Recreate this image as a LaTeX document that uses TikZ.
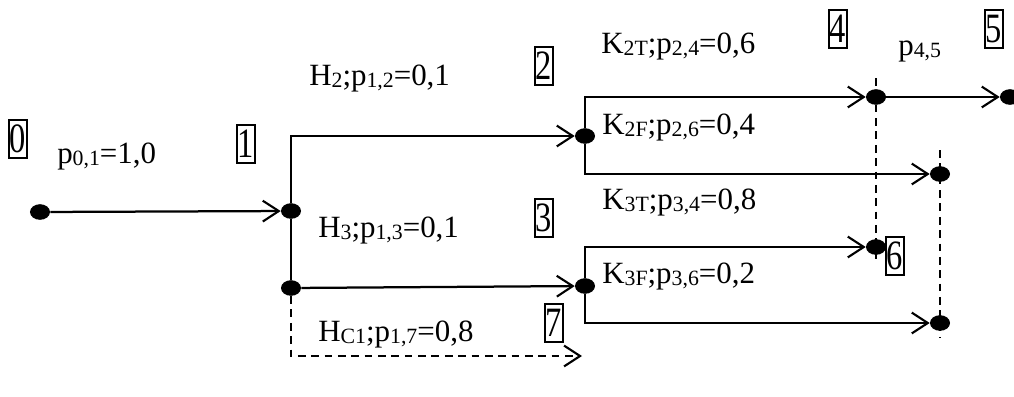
\documentclass[tikz,border=0pt]{standalone}
\usepackage{fontspec}
\setmainfont{Liberation Serif}
\usetikzlibrary{arrows.meta, positioning, shapes.geometric}
\newcommand{\sub}[1]{\raisebox{-1.8pt}{\fontsize{15.5}{16}\selectfont #1}}
\newcommand{\boxdigit}[1]{\scalebox{1.05}[1.35]{#1}}

\begin{document}
\begin{tikzpicture}[x=0.025cm, y=-0.025cm,
  every node/.style={font=\fontsize{22}{26}\selectfont},
  dot/.style={ellipse, fill=black, inner sep=0pt, minimum width=0.5cm, minimum height=0.39cm},
  numbox/.style={draw, line width=1.3pt, inner sep=0pt, minimum width=0.45cm, minimum height=0.97cm},
  lab/.style={anchor=base west, inner sep=0pt},
  arr/.style={line width=1.6pt, -{Straight Barb[length=4mm, width=5.2mm, line width=1.5pt]}},
  dashln/.style={line width=1.1pt, dash pattern=on 5.5pt off 4pt}]
  \useasboundingbox (0,0) rectangle (1014,396);

  % event nodes
  \node[dot] (n0) at (40,212) {};
  \node[dot] (n1) at (291,211) {};
  \node[dot] (n1c) at (291,288) {};
  \node[dot] (n2) at (585,136) {};
  \node[dot] (n3) at (585,286) {};
  \node[dot] (n4) at (876,97) {};
  \node[dot] (n5) at (1010,97) {};
  \node[dot] (n6) at (876,247) {};
  \node[dot] (n2f) at (940,174) {};
  \node[dot] (n3f) at (940,323) {};
  \coordinate (n7) at (582,356);

  % merging lines
  \draw[dashln] (n4.center |- 0,78) -- (n6.center |- 0,265);
  \draw[dashln] (n2f.center |- 0,150) -- (n3f.center |- 0,338);

  % transitions
  \draw[arr] (n0) -- (n1);
  \draw[arr] (n1) |- (n2);
  \draw[line width=1.6pt] (n1) -- (n1c);
  \draw[arr] (n1c) -- (n3);
  \draw[arr, dashln] (n1c) |- (n7);
  \draw[arr] (n2) |- (n4);
  \draw[arr] (n2) |- (n2f);
  \draw[arr] (n4) -- (n5);
  \draw[arr] (n3) |- (n6);
  \draw[arr] (n3) |- (n3f);

  % labels
  \node[lab] (l01) at (57,163) {p\sub{0,1}=1,0};
  \node[lab] (l12) at (309,85) {H\sub{2};p\sub{1,2}=0,1};
  \node[lab] (l13) at (318,237) {H\sub{3};p\sub{1,3}=0,1};
  \node[lab] (l17) at (318,341) {H\sub{C1};p\sub{1,7}=0,8};
  \node[lab] (l24) at (601,53) {K\sub{2T};p\sub{2,4}=0,6};
  \node[lab] (l26) at (602,134) {K\sub{2F};p\sub{2,6}=0,4};
  \node[lab] (l34) at (602,209) {K\sub{3T};p\sub{3,4}=0,8};
  \node[lab] (l36) at (602,283) {K\sub{3F};p\sub{3,6}=0,2};
  \node[lab] (l45) at (898,55) {p\sub{4,5}};

  % state numbers
  \node[numbox] (b0) at (18,139) {\boxdigit{0}};
  \node[numbox] (b1) at (246,144) {\boxdigit{1}};
  \node[numbox] (b2) at (544,66) {\boxdigit{2}};
  \node[numbox] (b3) at (544,218) {\boxdigit{3}};
  \node[numbox] (b4) at (838,29) {\boxdigit{4}};
  \node[numbox] (b5) at (994,29) {\boxdigit{5}};
  \node[numbox] (b6) at (895,256) {\boxdigit{6}};
  \node[numbox] (b7) at (554,323) {\boxdigit{7}};
\end{tikzpicture}
\end{document}
